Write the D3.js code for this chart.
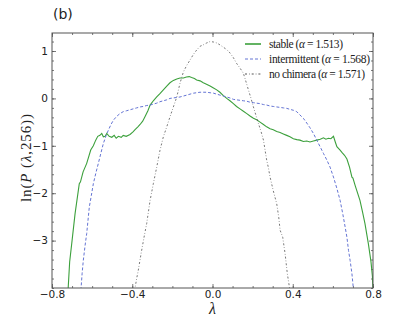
<!DOCTYPE html>
<html><head><meta charset="utf-8">
<script src="https://cdn.jsdelivr.net/npm/d3@7"></script>
<style>body{margin:0;background:#fff}svg{display:block}</style>
</head><body>
<svg id="c" width="415" height="320"></svg>
<script>
const xTicks = [-0.8, -0.4, 0.0, 0.4, 0.8];
const yTicks = [-3, -2, -1, 0, 1];
const seriesNames = ["stable (\u03b1 = 1.513)", "intermittent (\u03b1 = 1.568)", "no chimera (\u03b1 = 1.571)"];

const stable = [[-0.720,-4.05],[-0.712,-3.45],[-0.700,-3.0],[-0.685,-2.43],[-0.664,-1.80],[-0.658,-1.76],[-0.645,-1.55],[-0.627,-1.37],[-0.607,-1.09],[-0.594,-1.0],[-0.582,-0.88],[-0.572,-0.80],[-0.561,-0.78],[-0.552,-0.74],[-0.544,-0.81],[-0.535,-0.80],[-0.527,-0.74],[-0.515,-0.80],[-0.502,-0.82],[-0.490,-0.78],[-0.480,-0.84],[-0.469,-0.80],[-0.455,-0.82],[-0.445,-0.78],[-0.430,-0.80],[-0.411,-0.76],[-0.395,-0.70],[-0.386,-0.66],[-0.372,-0.60],[-0.361,-0.55],[-0.348,-0.48],[-0.336,-0.38],[-0.322,-0.26],[-0.311,-0.14],[-0.295,-0.05],[-0.278,0.03],[-0.262,0.10],[-0.245,0.18],[-0.228,0.26],[-0.212,0.33],[-0.195,0.38],[-0.178,0.41],[-0.162,0.43],[-0.145,0.43],[-0.130,0.45],[-0.116,0.46],[-0.104,0.44],[-0.090,0.42],[-0.079,0.39],[-0.062,0.37],[-0.046,0.33],[-0.030,0.30],[-0.012,0.26],[0.005,0.22],[0.021,0.18],[0.037,0.13],[0.054,0.06],[0.071,0.0],[0.087,-0.05],[0.104,-0.11],[0.120,-0.17],[0.137,-0.22],[0.154,-0.27],[0.171,-0.32],[0.187,-0.37],[0.204,-0.42],[0.220,-0.45],[0.237,-0.50],[0.254,-0.55],[0.270,-0.60],[0.287,-0.64],[0.303,-0.66],[0.320,-0.70],[0.337,-0.72],[0.353,-0.75],[0.370,-0.78],[0.386,-0.81],[0.403,-0.85],[0.420,-0.87],[0.436,-0.88],[0.453,-0.91],[0.470,-0.90],[0.486,-0.92],[0.503,-0.90],[0.520,-0.88],[0.537,-0.86],[0.553,-0.83],[0.565,-0.86],[0.578,-0.84],[0.590,-0.85],[0.603,-0.80],[0.612,-0.92],[0.620,-1.02],[0.636,-1.09],[0.645,-1.14],[0.658,-1.20],[0.670,-1.28],[0.683,-1.45],[0.695,-1.66],[0.700,-1.68],[0.712,-1.85],[0.735,-2.15],[0.748,-2.40],[0.760,-2.64],[0.777,-3.07],[0.790,-3.45],[0.797,-3.75],[0.800,-4.05]];

const intermittent = [[-0.656,-4.05],[-0.650,-3.70],[-0.644,-3.42],[-0.635,-3.10],[-0.627,-2.85],[-0.614,-2.29],[-0.604,-2.05],[-0.594,-1.80],[-0.580,-1.55],[-0.569,-1.37],[-0.556,-1.15],[-0.544,-0.95],[-0.530,-0.78],[-0.519,-0.67],[-0.506,-0.55],[-0.494,-0.46],[-0.478,-0.38],[-0.461,-0.32],[-0.445,-0.28],[-0.428,-0.26],[-0.411,-0.24],[-0.395,-0.22],[-0.378,-0.20],[-0.361,-0.18],[-0.345,-0.17],[-0.328,-0.15],[-0.311,-0.14],[-0.295,-0.12],[-0.278,-0.10],[-0.262,-0.07],[-0.245,-0.05],[-0.228,-0.03],[-0.212,0.0],[-0.195,0.01],[-0.178,0.02],[-0.162,0.03],[-0.145,0.05],[-0.128,0.07],[-0.112,0.09],[-0.095,0.11],[-0.079,0.12],[-0.062,0.13],[-0.046,0.13],[-0.029,0.13],[-0.012,0.12],[0.005,0.11],[0.021,0.09],[0.037,0.07],[0.054,0.05],[0.071,0.03],[0.087,0.01],[0.104,-0.02],[0.120,-0.03],[0.137,-0.04],[0.154,-0.05],[0.171,-0.06],[0.187,-0.08],[0.204,-0.09],[0.220,-0.10],[0.237,-0.11],[0.254,-0.13],[0.270,-0.14],[0.287,-0.16],[0.303,-0.17],[0.320,-0.18],[0.337,-0.19],[0.353,-0.20],[0.370,-0.21],[0.386,-0.23],[0.403,-0.25],[0.420,-0.28],[0.436,-0.35],[0.453,-0.42],[0.470,-0.52],[0.486,-0.62],[0.503,-0.74],[0.515,-0.84],[0.528,-0.95],[0.540,-1.05],[0.553,-1.16],[0.570,-1.30],[0.586,-1.45],[0.603,-1.66],[0.620,-1.90],[0.636,-2.15],[0.650,-2.45],[0.661,-2.71],[0.670,-2.93],[0.678,-3.21],[0.686,-3.42],[0.695,-3.70],[0.703,-4.05]];

const noChimera = [[-0.388,-4.05],[-0.378,-3.80],[-0.370,-3.63],[-0.355,-3.25],[-0.340,-2.90],[-0.328,-2.64],[-0.311,-2.15],[-0.295,-1.80],[-0.278,-1.45],[-0.262,-1.10],[-0.245,-0.81],[-0.228,-0.60],[-0.212,-0.39],[-0.195,-0.18],[-0.178,0.03],[-0.162,0.32],[-0.145,0.56],[-0.128,0.70],[-0.112,0.81],[-0.095,0.93],[-0.079,1.02],[-0.062,1.10],[-0.046,1.13],[-0.029,1.17],[-0.012,1.20],[0.005,1.19],[0.021,1.17],[0.037,1.13],[0.054,1.08],[0.071,1.03],[0.087,0.96],[0.104,0.86],[0.120,0.74],[0.137,0.64],[0.154,0.53],[0.165,0.38],[0.179,0.18],[0.192,0.0],[0.204,-0.18],[0.216,-0.35],[0.229,-0.53],[0.242,-0.70],[0.254,-0.88],[0.262,-1.09],[0.270,-1.30],[0.278,-1.45],[0.287,-1.66],[0.303,-1.95],[0.320,-2.22],[0.330,-2.50],[0.337,-2.78],[0.350,-2.93],[0.362,-3.28],[0.373,-3.70],[0.386,-4.05]];

const colors = ["#3ca03c", "#6474d4", "#555555"];
const dashes = [null, "3,2", "2,2,0.7,2"];
const widths = [1.1, 1, 0.8];
const legendWidths = [74, 101, 96];

const svg = d3.select("#c");
const L = 52, R = 373, T = 33, B = 288;
const x = d3.scaleLinear().domain([-0.8, 0.8]).range([L, R]);
const y = d3.scaleLinear().domain([-4, 1.38]).range([B, T]);

svg.append("defs").append("clipPath").attr("id","clip")
  .append("rect").attr("x",L).attr("y",T).attr("width",R-L).attr("height",B-T);

const tickFont = "'DejaVu Sans', sans-serif";
const axisColor = "#555";

const xMinor = d3.range(-8, 9).map(d => d / 10);
const yMinor = d3.range(-20, 7).map(d => d / 5).filter(v => v >= -4 && v <= 1.38);

function styleAxis(g){
  g.select(".domain").remove();
  g.selectAll(".tick line").attr("stroke", axisColor).attr("stroke-width", 0.8);
  g.selectAll(".tick text").attr("font-family", tickFont).attr("font-size", 10.5).attr("fill", "#222");
}

svg.append("g").attr("transform",`translate(0,${B})`)
  .call(d3.axisBottom(x).tickValues(xMinor).tickSize(-2).tickFormat(""))
  .call(styleAxis);
svg.append("g").attr("transform",`translate(0,${T})`)
  .call(d3.axisTop(x).tickValues(xMinor).tickSize(-2).tickFormat(""))
  .call(styleAxis);
svg.append("g").attr("transform",`translate(${L},0)`)
  .call(d3.axisLeft(y).tickValues(yMinor).tickSize(-2).tickFormat(""))
  .call(styleAxis);
svg.append("g").attr("transform",`translate(${R},0)`)
  .call(d3.axisRight(y).tickValues(yMinor).tickSize(-2).tickFormat(""))
  .call(styleAxis);

const fmtX = d => (d < 0 ? "\u2212" : "") + Math.abs(d).toFixed(1);
const fmtY = d => (d < 0 ? "\u2212" : "") + Math.abs(d);
svg.append("g").attr("transform",`translate(0,${B})`)
  .call(d3.axisBottom(x).tickValues(xTicks).tickSize(-4).tickPadding(2.5).tickFormat(fmtX))
  .call(styleAxis);
svg.append("g").attr("transform",`translate(0,${T})`)
  .call(d3.axisTop(x).tickValues(xTicks).tickSize(-4).tickFormat(""))
  .call(styleAxis);
svg.append("g").attr("transform",`translate(${L},0)`)
  .call(d3.axisLeft(y).tickValues(yTicks).tickSize(-4).tickPadding(4).tickFormat(fmtY))
  .call(styleAxis);
svg.append("g").attr("transform",`translate(${R},0)`)
  .call(d3.axisRight(y).tickValues(yTicks).tickSize(-4).tickFormat(""))
  .call(styleAxis);

const line = d3.line().x(d => x(d[0])).y(d => y(d[1]));
const plot = svg.append("g").attr("clip-path","url(#clip)");
[stable, intermittent, noChimera].forEach((s, i) => {
  plot.append("path").datum(s).attr("d", line)
    .attr("fill","none").attr("stroke", colors[i])
    .attr("stroke-width", widths[i])
    .attr("stroke-dasharray", dashes[i]);
});

svg.append("rect").attr("x",L).attr("y",T).attr("width",R-L).attr("height",B-T)
  .attr("fill","none").attr("stroke", axisColor).attr("stroke-width",1);

const serif = "'Liberation Serif', 'DejaVu Serif', serif";
const leg = svg.append("g");
seriesNames.forEach((n, i) => {
  const yy = 44 + i * 15;
  leg.append("line").attr("x1",245).attr("x2",261).attr("y1",yy).attr("y2",yy)
    .attr("stroke", colors[i]).attr("stroke-width", i === 0 ? 1.6 : 1)
    .attr("stroke-dasharray", dashes[i]);
  const t = leg.append("text").attr("x",269).attr("y",yy+3.5)
    .attr("font-family", serif).attr("font-size", 11.5).attr("fill","#222")
    .attr("textLength", legendWidths[i]).attr("lengthAdjust","spacing");
  const parts = n.split("\u03b1");
  t.append("tspan").text(parts[0]);
  t.append("tspan").attr("font-style","italic").text("\u03b1");
  t.append("tspan").text(parts[1]);
});

svg.append("text").attr("x",53).attr("y",19).attr("font-family","'DejaVu Sans', sans-serif")
  .attr("font-size",14).attr("fill","#222").text("(b)");
svg.append("text").attr("x",x(0)).attr("y",314).attr("text-anchor","middle")
  .attr("font-family", serif).attr("font-style","italic").attr("font-size",16).attr("fill","#222").text("\u03bb");
const yl = svg.append("text").attr("transform","translate(31,158) rotate(-90)").attr("text-anchor","middle")
  .attr("font-family", serif).attr("font-size",15).attr("fill","#222")
  .attr("textLength", 88).attr("lengthAdjust","spacing");
yl.append("tspan").text("ln(");
yl.append("tspan").attr("font-style","italic").text("P");
yl.append("tspan").text(" (");
yl.append("tspan").attr("font-style","italic").text("\u03bb");
yl.append("tspan").text(",256))");
</script>
</body></html>
